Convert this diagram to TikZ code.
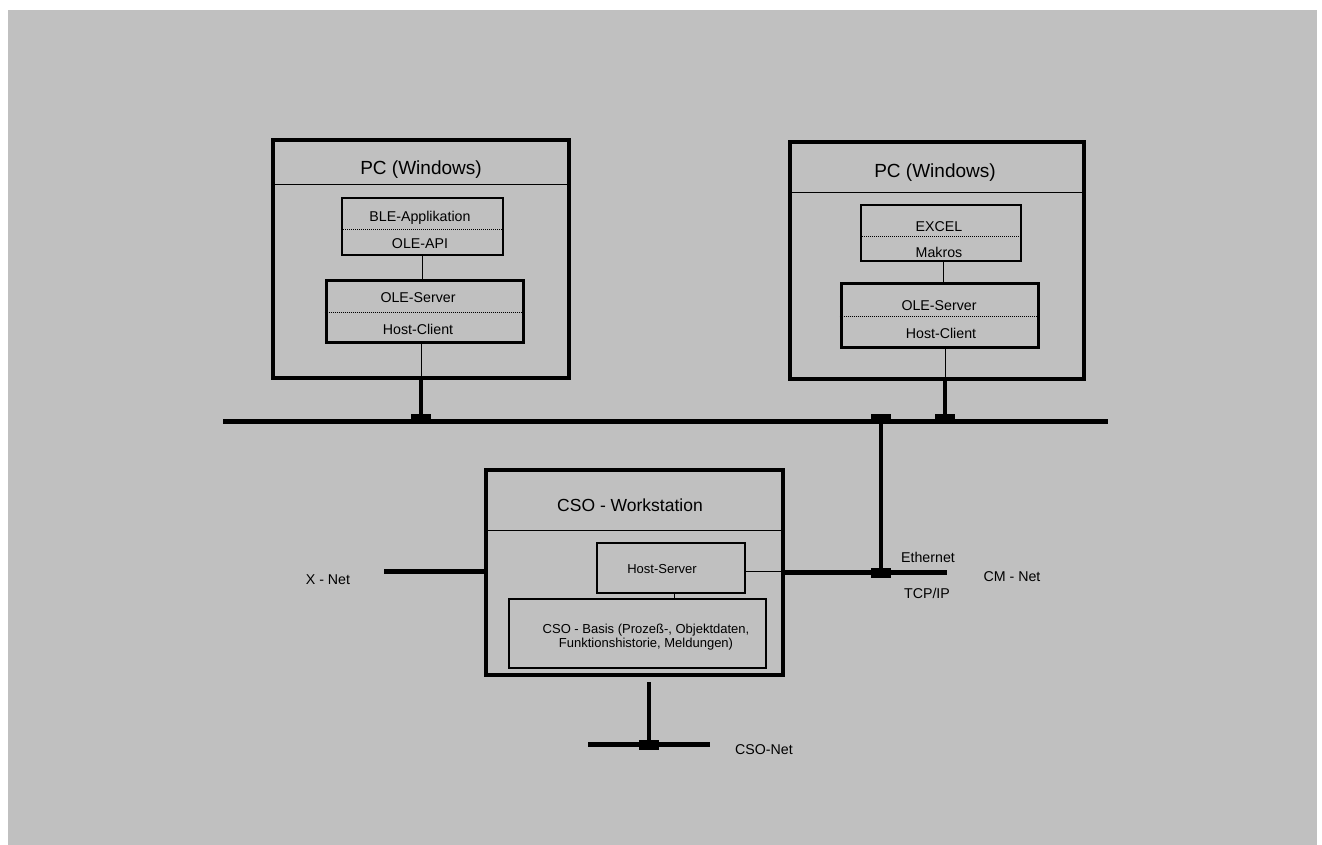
\documentclass[tikz,border=0pt]{standalone}
\usepackage{fontspec}
\setmainfont{Liberation Sans}
\usepackage{xcolor}
\usepackage{tikz}
\usetikzlibrary{positioning}
\definecolor{bggray}{RGB}{192,192,192}
\newcommand{\bigtxt}{\fontsize{19}{22}\selectfont}
\newcommand{\midtxt}{\fontsize{17.5}{20}\selectfont}
\newcommand{\pctxt}{\fontsize{14.2}{16}\selectfont}
\newcommand{\smalltxt}{\fontsize{13}{14}\selectfont}

\begin{document}
\begin{tikzpicture}[
  x=1pt, y=-1pt,
  hostbox/.style={rectangle, draw=black, line width=4pt, inner sep=0pt},
  appbox/.style={rectangle, draw=black, line width=1.2pt, inner sep=0pt},
  srvbox/.style={rectangle, draw=black, line width=3pt, inner sep=0pt},
  title/.style={font=\bigtxt, inner sep=0pt},
  txt/.style={font=\pctxt, inner sep=0pt, align=center},
  csotxt/.style={font=\smalltxt, inner sep=0pt, align=center},
  sep/.style={line width=1pt},
  dots/.style={line width=0.8pt, dash pattern=on 1pt off 1pt},
  link/.style={line width=1pt},
  drop/.style={line width=4pt},
  bus/.style={line width=5pt},
  tap/.style={rectangle, fill=black, minimum width=20pt, minimum height=10pt, inner sep=0pt}
]
\useasboundingbox (0,0) rectangle (1322,845);
\fill[bggray] (8,10) rectangle (1317,845);

\node[hostbox, minimum width=296pt, minimum height=238pt] (pc1) at (421,259) {};
\node[title] (pc1t) at (421,170) {PC (Windows)};
\node[appbox, minimum width=161pt, minimum height=57pt] (ble) at (422.5,226.5) {};
\node[txt] (blea) at (420,218) {BLE-Applikation};
\node[txt] (bleb) at (420,244) {OLE-API};
\node[srvbox, minimum width=197pt, minimum height=62pt] (ole1) at (424.5,311) {};
\node[txt] (ole1a) at (418,298) {OLE-Server};
\node[txt] (ole1b) at (418,329) {Host-Client};

\node[hostbox, minimum width=294pt, minimum height=237pt] (pc2) at (937,260.5) {};
\node[title] (pc2t) at (935,173) {PC (Windows)};
\node[appbox, minimum width=160pt, minimum height=56pt] (xls) at (941,233) {};
\node[txt] (xlsa) at (939,227) {EXCEL};
\node[txt] (xlsb) at (939,252) {Makros};
\node[srvbox, minimum width=197pt, minimum height=64pt] (ole2) at (939.5,315) {};
\node[txt] (ole2a) at (939,306) {OLE-Server};
\node[txt] (ole2b) at (941,333) {Host-Client};

\node[hostbox, minimum width=297pt, minimum height=205pt] (cso) at (634.5,572.5) {};
\node[title, font=\midtxt] (csot) at (630,505) {CSO - Workstation};
\node[appbox, minimum width=148pt, minimum height=50pt] (hs) at (671,568) {};
\node[csotxt] (hst) at (662,569) {Host-Server};
\node[appbox, minimum width=257pt, minimum height=69pt] (basis) at (637.5,633.5) {};
\node[csotxt] (basist) at (646,637) {CSO - Basis (Prozeß-, Objektdaten,\\Funktionshistorie, Meldungen)};

\coordinate (busL) at (223,421);
\coordinate (busR) at (1108,421);
\coordinate (xnet) at (384,571);
\coordinate (cmnet) at (947,572);
\coordinate (csoL) at (588,744);
\coordinate (csoR) at (710,744);

\node[txt] (xnett) at (328,580) {X - Net};
\node[txt] (etht) at (928,557) {Ethernet};
\node[txt] (tcpt) at (927,593) {TCP/IP};
\node[txt] (cmnett) at (1012,577) {CM - Net};
\node[txt] (csonett) at (764,750) {CSO-Net};

\draw[sep] (pc1.west |- 0,185) -- (pc1.east |- 0,185);
\draw[sep] (pc2.west |- 0,193) -- (pc2.east |- 0,193);
\draw[sep] (cso.west |- 0,530) -- (cso.east |- 0,530);
\draw[dots] (ble.west |- 0,229) -- (ble.east |- 0,229);
\draw[dots] (ole1.west |- 0,312) -- (ole1.east |- 0,312);
\draw[dots] (xls.west |- 0,236) -- (xls.east |- 0,236);
\draw[dots] (ole2.west |- 0,316) -- (ole2.east |- 0,316);

\draw[link] (ble.south -| 422,0) -- (ole1.north -| 422,0);
\draw[link] (xls.south -| 943,0) -- (ole2.north -| 943,0);
\draw[link] (hs.south -| 674,0) -- (basis.north -| 674,0);
\draw[link] (hs.east |- 0,571) -- (cso.east |- 0,571);

\draw[bus] (busL) -- (busR);
\node[tap] (tap1) at (421,419) {};
\node[tap] (tap2) at (881,419) {};
\node[tap] (tap3) at (945,419) {};
\node[tap] (tap4) at (881,573) {};
\node[tap] (tap5) at (649,745) {};

\draw[link] (ole1.south -| tap1) -- (pc1.south -| tap1);
\draw[drop] (pc1.south -| tap1) -- (tap1.center);
\draw[link] (ole2.south -| tap3) -- (pc2.south -| tap3);
\draw[drop] (pc2.south -| tap3) -- (tap3.center);
\draw[drop] (tap2.center) -- (tap4.center);
\draw[bus] (xnet) -- (cso.west |- xnet);
\draw[bus] (cso.east |- cmnet) -- (cmnet);
\draw[drop] ([yshift=-5pt]cso.south -| tap5) -- (tap5.center);
\draw[bus] (csoL) -- (csoR);
\end{tikzpicture}
\end{document}
